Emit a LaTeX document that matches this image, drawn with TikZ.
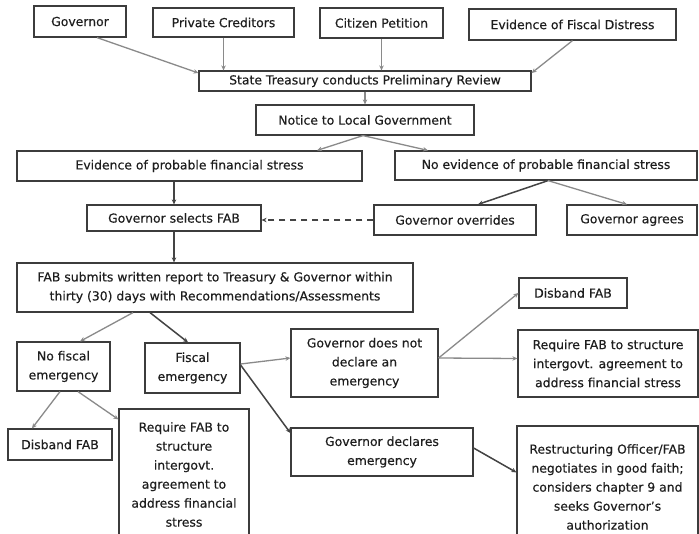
\documentclass[tikz,border=0pt]{standalone}
\usepackage{fontspec}
\setmainfont{DejaVu Sans}[FakeBold=0.35]
\usetikzlibrary{arrows.meta,calc}
\definecolor{boxc}{HTML}{3C3C3C}
\definecolor{lightc}{HTML}{8A8A8A}
\definecolor{darkc}{HTML}{444444}
\definecolor{txtc}{HTML}{1E1E1E}
\tikzset{
  box/.style={draw=boxc, line width=1.2pt, inner sep=0pt, align=center, text=txtc,
    font=\fontsize{12.4}{19}\selectfont},
  lightarrow/.style={draw=lightc, line width=1.3pt, -{Stealth[length=5pt,width=4.5pt]}},
  darkarrow/.style={draw=darkc, line width=1.5pt, -{Stealth[length=5pt,width=4.5pt]}},
  dasharrow/.style={darkarrow, dash pattern=on 6pt off 5pt}
}
\begin{document}
\begin{tikzpicture}[x=1pt,y=-1pt]
\path[use as bounding box, clip] (0,0) rectangle (699,533);
\fill[white] (0,0) rectangle (699,533);
% nodes
\node[box, minimum width=92pt, minimum height=31pt] (gov) at (80,21.5) {Governor};
\node[box, minimum width=141pt, minimum height=29pt] (pc) at (223.5,22.5) {Private Creditors};
\node[box, minimum width=123pt, minimum height=30pt] (cp) at (381.5,23) {Citizen Petition};
\node[box, minimum width=207pt, minimum height=31pt] (efd) at (572.5,24.5) {Evidence of Fiscal Distress};
\node[box, minimum width=332pt, minimum height=20pt] (st) at (365,81) {State Treasury conducts Preliminary Review};
\node[box, minimum width=218pt, minimum height=30pt] (notice) at (365,120) {Notice to Local Government};
\node[box, minimum width=345pt, minimum height=30pt] (eps) at (189.5,166) {Evidence of probable financial stress};
\node[box, minimum width=302pt, minimum height=29pt] (neps) at (546,165.5) {No evidence of probable financial stress};
\node[box, minimum width=174pt, minimum height=26pt] (gsf) at (174,218) {Governor selects FAB};
\node[box, minimum width=162pt, minimum height=30pt] (gover) at (455,220) {Governor overrides};
\node[box, minimum width=130pt, minimum height=30pt] (gagree) at (632,220) {Governor agrees};
\node[box, minimum width=396pt, minimum height=49pt] (fab) at (215,287.5) {FAB submits written report to Treasury \& Governor within\\thirty (30) days with Recommendations/Assessments};
\node[box, minimum width=93pt, minimum height=49pt] (nfe) at (63.5,366.5) {No fiscal\\emergency};
\node[box, minimum width=95pt, minimum height=50pt] (fe) at (192.5,368) {Fiscal\\emergency};
\node[box, minimum width=147pt, minimum height=68pt] (gdn) at (364.5,363) {Governor does not\\declare an\\emergency};
\node[box, minimum width=104pt, minimum height=31pt] (dis1) at (60,444.5) {Disband FAB};
\node[box, minimum width=130pt, minimum height=131pt] (req1) at (184,474.5) {Require FAB to\\structure\\intergovt.\\agreement to\\address financial\\stress};
\node[box, minimum width=108pt, minimum height=30pt] (dis2) at (573,293) {Disband FAB};
\node[box, minimum width=180pt, minimum height=67pt] (req2) at (608,363.5) {Require FAB to structure\\intergovt. agreement to\\address financial stress};
\node[box, minimum width=182pt, minimum height=48pt] (gde) at (382,452) {Governor declares\\emergency};
\node[box, minimum width=181pt, minimum height=122pt] (ro) at (607.5,487) {Restructuring Officer/FAB\\negotiates in good faith;\\considers chapter 9 and\\seeks Governor’s\\authorization};
% connectors
\draw[lightarrow] ([xshift=17pt]gov.south) -- ([yshift=8pt]st.west);
\draw[lightarrow] (pc.south) -- (pc.south |- st.north);
\draw[lightarrow] (cp.south) -- (cp.south |- st.north);
\draw[lightarrow] (efd.south) -- ([yshift=8pt]st.east);
\draw[lightarrow] (st.south) -- (notice.north);
\draw[lightarrow] ([xshift=-2pt]notice.south) -- ([xshift=127.5pt]eps.north);
\draw[lightarrow] ([xshift=-2pt]notice.south) -- ([xshift=-118pt]neps.north);
\draw[darkarrow] (gsf.north |- eps.south) -- (gsf.north);
\draw[darkarrow] (gsf.south) -- (gsf.south |- fab.north);
\draw[dasharrow] (gover.west) -- (gover.west -| gsf.east);
\draw[darkarrow] ([xshift=2pt]neps.south) -- ([xshift=23pt]gover.north);
\draw[lightarrow] ([xshift=2pt]neps.south) -- ([xshift=-5pt]gagree.north);
\draw[lightarrow] ([xshift=-82pt]fab.south) -- ([xshift=16.5pt]nfe.north);
\draw[darkarrow] ([xshift=-65pt]fab.south) -- ([xshift=-4.5pt]fe.north);
\draw[lightarrow] ([yshift=4pt]fe.east) -- ([yshift=5pt]gdn.west);
\draw[darkarrow] ([yshift=3pt]fe.east) -- ([yshift=19pt]gde.west);
\draw[lightarrow] ([yshift=5pt]gdn.east) -- (dis2.west);
\draw[lightarrow] ([yshift=5pt]gdn.east) -- ([yshift=5pt]req2.west);
\draw[darkarrow] ([yshift=4pt]gde.east) -- ([yshift=-47pt]ro.north west);
\draw[lightarrow] ([xshift=-3.5pt]nfe.south) -- ([xshift=-28pt]dis1.north);
\draw[lightarrow] ([xshift=14.5pt]nfe.south) -- ([yshift=-11pt]req1.north west);
\end{tikzpicture}
\end{document}
